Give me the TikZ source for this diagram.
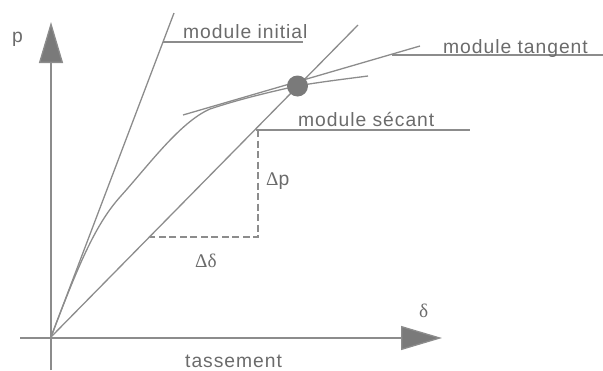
\documentclass[tikz,border=0pt]{standalone}
\usepackage{fontspec}
\setmainfont[LetterSpace=5]{Liberation Sans}
\newfontfamily\grk{Liberation Serif}
\usetikzlibrary{arrows.meta}
\definecolor{ln}{gray}{0.55}
\definecolor{dk}{gray}{0.48}
\definecolor{tx}{gray}{0.42}
\tikzset{
  lnstyle/.style={draw=ln, line width=1.3pt},
  dashline/.style={draw=ln, line width=1.3pt, dash pattern=on 7pt off 3.5pt},
  axisline/.style={draw=ln, line width=1.3pt, -{Triangle[length=41pt,width=24pt,fill=dk]}},
  lbl/.style={inner sep=0pt, anchor=base west, text=tx, font=\fontsize{19.3}{22}\selectfont},
}
\begin{document}
\begin{tikzpicture}[x=1pt,y=-1pt]
\useasboundingbox (0,0) rectangle (603,370);
% points
\coordinate (o) at (51,337);
\coordinate (ybot) at (51,370);
\coordinate (ytop) at (51,22);
\coordinate (xl) at (20,338);
\coordinate (xr) at (442,338);
\coordinate (itop) at (174,13);
\coordinate (iu1) at (163,42);
\coordinate (iu2) at (303,42);
\coordinate (stop) at (358,25);
\coordinate (t1) at (183,115);
\coordinate (t2) at (420,46);
\coordinate (tu1) at (392,55);
\coordinate (tu2) at (603,55);
\coordinate (su1) at (256,130);
\coordinate (c1) at (258,130);
\coordinate (c2) at (258,237);
\coordinate (c3) at (150,237);
\coordinate (su2) at (470,130);
\coordinate (cA) at (120,197);
\coordinate (cB) at (210,109);
\coordinate (cP) at (297,86);
\coordinate (cE) at (368,76);
% axes
\draw[axisline] (ybot) -- (ytop);
\draw[axisline] (xl) -- (xr);
% lines
\draw[lnstyle] (o) -- (itop);
\draw[lnstyle] (iu1) -- (iu2);
\draw[lnstyle] (o) -- (stop);
\draw[lnstyle] (t1) -- (t2);
\draw[lnstyle] (tu1) -- (tu2);
\draw[lnstyle] (su1) -- (su2);
\draw[dashline] (c1) -- (c2) -- (c3);
% curve
\draw[lnstyle] (o) .. controls (78,266) and (95,225) .. (cA)
  .. controls (148,166) and (180,122) .. (cB)
  .. controls (240,99) and (270,92) .. (cP)
  .. controls (320,82) and (345,79) .. (cE);
% point
\node[circle, fill=dk, minimum size=21pt, inner sep=0pt] (pt) at (297.5,86) {};
% labels
\node[lbl] (lp) at (12,42) {p};
\node[lbl] (ld) at (419,317) {\grk δ};
\node[lbl] (lt) at (185,367) {tassement};
\node[lbl] (li) at (183,38) {module initial};
\node[lbl] (ltg) at (443,53) {module tangent};
\node[lbl] (ls) at (298,126) {module sécant};
\node[lbl] (ldp) at (266,185) {{\grk Δ}p};
\node[lbl] (ldd) at (195,267) {\grk Δδ};
\end{tikzpicture}
\end{document}
